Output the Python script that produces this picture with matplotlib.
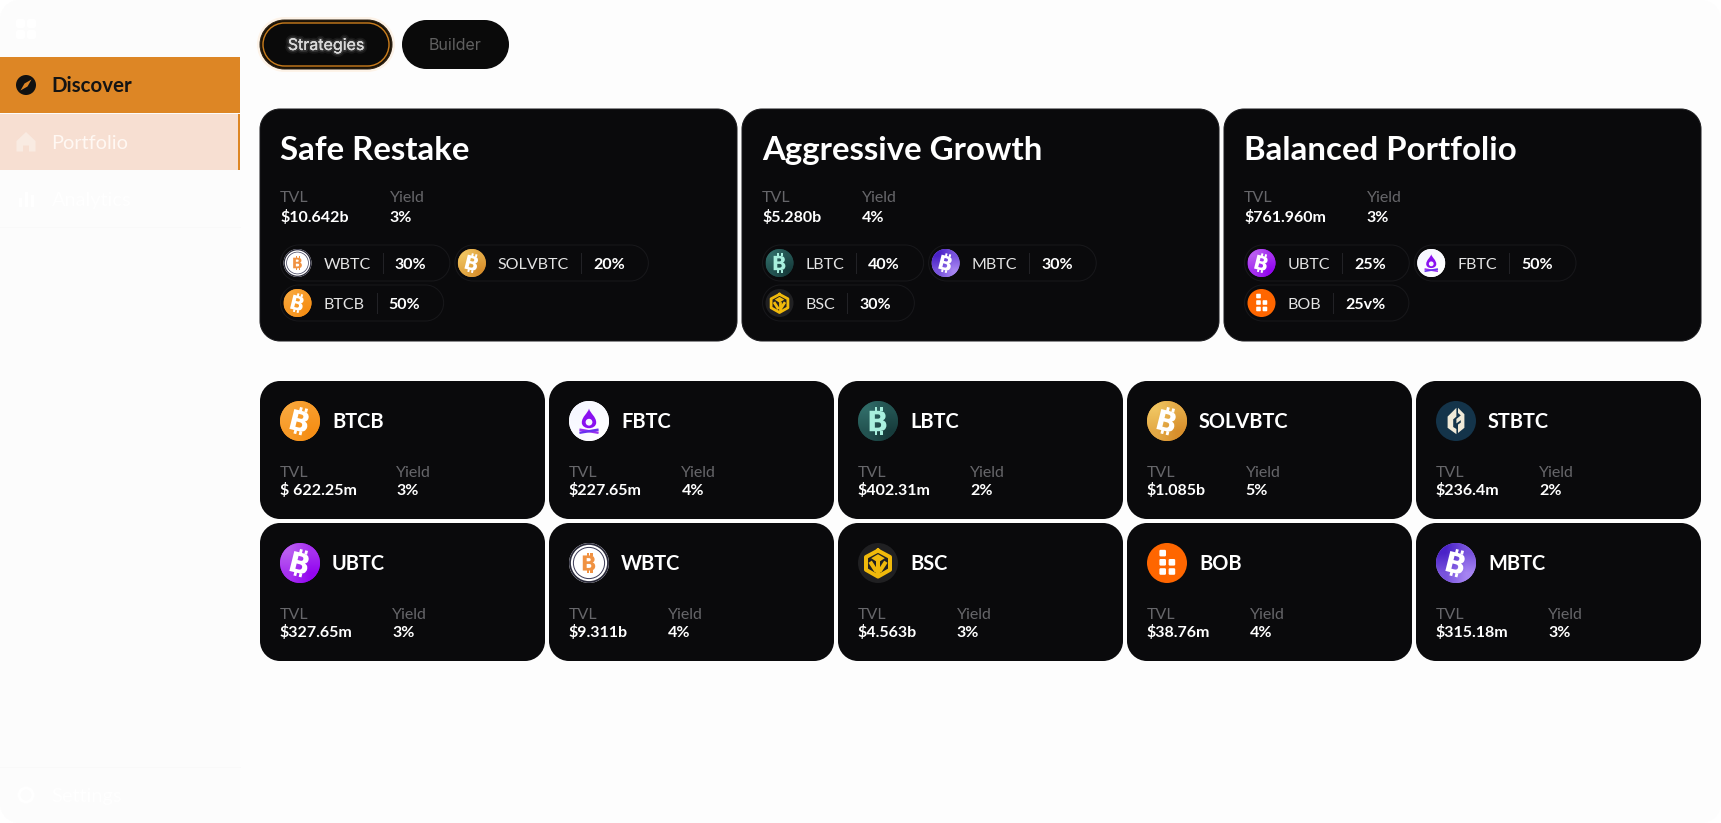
import numpy as np
import matplotlib
matplotlib.use("Agg")
import matplotlib.pyplot as plt
from matplotlib.patches import Circle, PathPatch, Polygon, Rectangle
from matplotlib.path import Path
from matplotlib.textpath import TextPath
from matplotlib.font_manager import FontProperties
from matplotlib.transforms import Affine2D
import matplotlib.patheffects as pe

# ---------- data ----------
NAV_ITEMS = ["Discover", "Portfolio", "Analytics"]
FOOT_ITEM = "Settings"
TABS = ["Strategies", "Builder"]

STRATEGY_NAMES = ["Safe Restake", "Aggressive Growth", "Balanced Portfolio"]
STRATEGY_TVL = ["$10.642b", "$5.280b", "$761.960m"]
STRATEGY_YIELD = ["3%", "4%", "3%"]
STRATEGY_TOKENS = [["WBTC", "SOLVBTC", "BTCB"], ["LBTC", "MBTC", "BSC"], ["UBTC", "FBTC", "BOB"]]
STRATEGY_SHARES = [["30%", "20%", "50%"], ["40%", "30%", "30%"], ["25%", "50%", "25v%"]]

TOKEN_NAMES = ["BTCB", "FBTC", "LBTC", "SOLVBTC", "STBTC", "UBTC", "WBTC", "BSC", "BOB", "MBTC"]
TOKEN_TVL = ["$ 622.25m", "$227.65m", "$402.31m", "$1.085b", "$236.4m",
             "$327.65m", "$9.311b", "$4.563b", "$38.76m", "$315.18m"]
TOKEN_YIELD = ["3%", "4%", "2%", "5%", "2%", "3%", "4%", "3%", "4%", "3%"]

# ---------- style ----------
FONT = "Lato"
CARD = "#0a0a0c"
EDGE = "#18181b"
ORANGE = "#dd8625"
ICON_STYLE = {
    "BTCB": ("#f9a63a", "#f68f16", "btc", "#ffffff"),
    "SOLVBTC": ("#efc35f", "#d88f2c", "btc", "#ffffff"),
    "UBTC": ("#b95cf0", "#9406f0", "btc", "#ffffff"),
    "MBTC": ("#4a22c8", "#a684f2", "btc", "#ffffff"),
    "LBTC": ("#2f6a66", "#173c3c", "btc_up", "#a8f0de"),
    "WBTC": ("#ffffff", "#ffffff", "wbtc", "#f09242"),
    "FBTC": ("#f6f7ff", "#ffffff", "flame", "#8a10f0"),
    "BSC": ("#202022", "#202022", "bsc", "#f0b90b"),
    "BOB": ("#ff6600", "#ff6600", "bob", "#ffffff"),
    "STBTC": ("#14344a", "#14344a", "st", "#f0ead8"),
}
PX = 0.72  # points per pixel at dpi 100
K = 0.5523

fig = plt.figure(figsize=(17.21, 8.23), dpi=100, facecolor="#ffffff")
ax = fig.add_axes([0, 0, 1, 1])
ax.axis("off")
W, H = 1721, 823
ax.set_xlim(0, W)
ax.set_ylim(H, 0)
ax.set_autoscale_on(False)


def rrect(x0, y0, x1, y1, r, fc, ec="none", lw=0.0, z=1):
    c = r * (1 - K)
    verts = [(x0 + r, y0), (x1 - r, y0), (x1 - c, y0), (x1, y0 + c), (x1, y0 + r), (x1, y1 - r),
             (x1, y1 - c), (x1 - c, y1), (x1 - r, y1), (x0 + r, y1), (x0 + c, y1), (x0, y1 - c),
             (x0, y1 - r), (x0, y0 + r), (x0, y0 + c), (x0 + c, y0), (x0 + r, y0), (x0 + r, y0)]
    codes = [Path.MOVETO, Path.LINETO] + [Path.CURVE4] * 3 + [Path.LINETO] + [Path.CURVE4] * 3 + [Path.LINETO] + \
            [Path.CURVE4] * 3 + [Path.LINETO] + [Path.CURVE4] * 3 + [Path.CLOSEPOLY]
    p = PathPatch(Path(verts, codes), fc=fc, ec=ec, lw=lw * PX, zorder=z)
    ax.add_patch(p)
    return p


def txt(x, y, s, px, color, weight="normal", family=None, ha="left", z=6, **kw):
    return ax.text(x, y, s, fontsize=px * PX, color=color, fontweight=weight,
                   family=family or FONT, ha=ha, va="baseline", zorder=z, **kw)


def right_edge(t):
    return t.get_window_extent(fig.canvas.get_renderer()).x1


def shape(cx, cy, r, pts, color, z=5):
    xy = [(cx + a * r, cy + b * r) for a, b in pts]
    ax.add_patch(Polygon(xy, closed=True, fc=color, ec="none", zorder=z))


def bitcoin(cx, cy, h, color, rot):
    """Bitcoin sign: a bold B with two ticks above and below."""
    fp = FontProperties(family="DejaVu Sans", weight="bold")
    tp = TextPath((0, 0), "B", size=h, prop=fp)
    bb = tp.get_extents()
    scale = h * 0.72 / bb.height
    base = Affine2D().translate(-(bb.x0 + bb.x1) / 2, -(bb.y0 + bb.y1) / 2).scale(scale, -scale)
    place = Affine2D().rotate_deg(rot).translate(cx, cy)
    ax.add_patch(PathPatch(tp.transformed(base + place), fc=color, ec="none", zorder=5))
    w = bb.width * scale
    tick_w, tick_h = h * 0.10, h * 0.14
    for dx in (-w * 0.20, w * 0.12):
        for y0 in (-h * 0.36 - tick_h + h * 0.02, h * 0.36 - h * 0.02):
            pts = np.array([(dx, y0), (dx + tick_w, y0), (dx + tick_w, y0 + tick_h), (dx, y0 + tick_h)])
            ax.add_patch(Polygon(place.transform(pts), fc=color, ec="none", zorder=5))


def icon(cx, cy, r, name):
    c1, c2, kind, g = ICON_STYLE[name]
    disc = Circle((cx, cy), r, fc=c2, ec="none", zorder=3)
    ax.add_patch(disc)
    if c1 != c2:
        a, b = np.array(matplotlib.colors.to_rgb(c1)), np.array(matplotlib.colors.to_rgb(c2))
        m = (a + b) / 2
        im = ax.imshow(np.array([[a, m], [m, b]]), extent=(cx - r, cx + r, cy + r, cy - r),
                       interpolation="bilinear", zorder=3.5, aspect="auto")
        im.set_clip_path(disc)
    if kind == "btc":
        bitcoin(cx, cy, 1.42 * r, g, 14)
    elif kind == "btc_up":
        bitcoin(cx, cy, 1.42 * r, g, 0)
    elif kind == "wbtc":
        bitcoin(cx, cy, 1.05 * r, g, 0)
        ax.add_patch(Circle((cx, cy), r * 0.95, fc="none", ec="#2a2a3a", lw=r * 0.09 * PX, zorder=4))
        ax.add_patch(Circle((cx, cy), r * 0.78, fc="none", ec="#3c3c58", lw=r * 0.05 * PX, zorder=4))
    elif kind == "flame":
        verts = [(0, -0.62), (0.06, -0.38), (0.36, -0.22), (0.36, 0.08), (0.36, 0.26), (0.18, 0.36), (0, 0.36),
                 (-0.18, 0.36), (-0.36, 0.26), (-0.36, 0.08), (-0.36, -0.22), (-0.06, -0.38), (0, -0.62)]
        codes = [Path.MOVETO] + [Path.CURVE4] * 12
        ax.add_patch(PathPatch(Path([(cx + a * r, cy + b * r) for a, b in verts], codes), fc=g, ec="none", zorder=5))
        ax.add_patch(Circle((cx, cy + 0.06 * r), 0.17 * r, fc="#f6f7ff", ec="none", zorder=6))
        ax.plot([cx - 0.42 * r, cx + 0.42 * r], [cy + 0.44 * r, cy + 0.58 * r], color="#9a30f0",
                lw=0.12 * r * PX, zorder=5)
        ax.plot([cx - 0.42 * r, cx + 0.42 * r], [cy + 0.58 * r, cy + 0.44 * r], color="#6a30f0",
                lw=0.12 * r * PX, zorder=5)
    elif kind == "bob":
        s = 0.33
        for a, b in [(-0.38, -0.66), (-0.38, -0.2), (-0.38, 0.26), (0.08, -0.2), (0.08, 0.26)]:
            rrect(cx + a * r, cy + b * r, cx + (a + s) * r, cy + (b + s) * r, 0.06 * r, g, z=5)
    elif kind == "bsc":
        lw = max(1.2, 0.2 * r)
        hexa = [(0, -0.62), (0.6, -0.3), (0.6, 0.34), (0, 0.68), (-0.6, 0.34), (-0.6, -0.3), (0, -0.62)]
        ax.plot([cx + a * r for a, b in hexa], [cy + b * r for a, b in hexa], color=g, lw=lw * PX, zorder=5)
        shape(cx, cy, r, [(-0.34, -0.24), (0, -0.44), (0.34, -0.24), (0, -0.02)], g)
        ax.plot([cx, cx], [cy - 0.02 * r, cy + 0.5 * r], color=g, lw=lw * PX, zorder=5)
        ax.plot([cx - 0.34 * r, cx - 0.12 * r], [cy + 0.02 * r, cy + 0.36 * r], color=g, lw=lw * PX, zorder=5)
        ax.plot([cx + 0.34 * r, cx + 0.12 * r], [cy + 0.02 * r, cy + 0.36 * r], color=g, lw=lw * PX, zorder=5)
    elif kind == "st":
        shape(cx, cy, r, [(-0.42, -0.22), (0.02, -0.66), (0.02, -0.22), (-0.14, -0.08), (-0.14, 0.3),
                          (0.02, 0.4), (0.02, 0.66), (-0.42, 0.34)], g)
        shape(cx, cy, r, [(0.1, -0.66), (0.42, -0.34), (0.42, 0.34), (0.1, 0.6), (0.1, 0.18), (0.24, 0.08),
                          (0.24, -0.04), (0.02, 0.12), (0.02, -0.1), (0.24, -0.28), (0.1, -0.4)], g)


# ---------- page & sidebar ----------
rrect(0, 0, W, H, 20, "#fdfdfd", z=0)
rrect(0, 0, 260, H, 20, "#fcfcfc", z=0.5)
ax.add_patch(Rectangle((240, 0), 25, H, fc="#fdfdfd", ec="none", zorder=0.6))

for a, b in [(0, 0), (11, 0), (0, 11), (11, 11)]:
    rrect(16 + a, 19 + b, 16 + a + 9, 19 + b + 9, 2, "#ffffff", z=2)

ax.add_patch(Rectangle((0, 57), 240, 56, fc=ORANGE, ec="none", zorder=1))
ax.add_patch(Rectangle((0, 114), 240, 56, fc="#f7dfd2", ec="none", zorder=1))
ax.add_patch(Rectangle((238, 114), 2, 56, fc=ORANGE, ec="none", zorder=2))
ax.plot([0, 240], [227, 227], color="#f9f9f9", lw=1 * PX, zorder=1)
ax.plot([0, 240], [767, 767], color="#f9f9f9", lw=1 * PX, zorder=1)

ax.add_patch(Circle((26, 85), 10, fc="#111111", ec="none", zorder=3))
shape(26, 85, 10, [(0.55, -0.55), (0.15, 0.15), (-0.55, 0.55), (-0.15, -0.15)], ORANGE)
shape(26, 142, 10, [(0, -1.0), (0.95, -0.1), (0.95, 0.95), (0.3, 0.95), (0.3, 0.35), (-0.3, 0.35), (-0.3, 0.95),
                    (-0.95, 0.95), (-0.95, -0.1)], "#f9ebe2", z=3)
for a, b in [(20, 198), (26, 192), (32, 195)]:
    ax.add_patch(Rectangle((a - 1, b), 2.5, 207 - b, fc="#ffffff", ec="none", zorder=2))
ax.add_patch(Circle((26, 795), 7, fc="none", ec="#ffffff", lw=3 * PX, zorder=2))

txt(51.5, 92, NAV_ITEMS[0], 20.5, "#141414", weight="bold")
txt(51.5, 149, NAV_ITEMS[1], 20, "#fff8f3")
txt(51.5, 205.7, NAV_ITEMS[2], 20, "#ffffff")
txt(51.5, 801.7, FOOT_ITEM, 20, "#ffffff")

# ---------- tabs ----------
rrect(257, 17, 395, 72, 27.5, "#fdf3e8", z=1)
rrect(260, 20, 392, 69, 24.5, "#1c1408", ec="#2b1f10", lw=1, z=2)
rrect(263, 23, 389, 66, 21.5, "#0a0a0a", ec="#c97c1c", lw=1.4, z=3)
txt(326, 50, TABS[0], 16, "#d8d8d8", family="Inter", ha="center",
    path_effects=[pe.withStroke(linewidth=5, foreground="#ffffff", alpha=0.06),
                  pe.withStroke(linewidth=2.5, foreground="#ffffff", alpha=0.12),
                  pe.Normal()])
rrect(402, 20, 509, 69, 24.5, "#0a0a0a", z=2)
txt(455.5, 50, TABS[1], 16, "#606060", family="Inter", ha="center")


def metrics(x, y_label, y_value, tvl, yld, gap, size):
    txt(x, y_label, "TVL", size, "#66666a")
    t = txt(x, y_value, tvl, size, "#ffffff", weight="bold")
    yx = right_edge(t) + gap
    txt(yx, y_label, "Yield", size, "#66666a")
    txt(yx, y_value, yld, size, "#ffffff", weight="bold")


def pill(x, top, name, share):
    mid = top + 18
    icon(x + 17, mid, 14, name)
    t = txt(x + 43, mid + 5.7, name, 16, "#e4e4e4")
    sep = right_edge(t) + 12
    ax.plot([sep, sep], [mid - 10, mid + 10], color="#222226", lw=1 * PX, zorder=5)
    v = txt(sep + 12, mid + 5.7, share, 16, "#ffffff", weight="bold")
    end = right_edge(v) + 23.5
    rrect(x, top, end, top + 36, 18, "none", ec=EDGE, lw=1, z=2)
    return end


# ---------- strategy cards ----------
CARD_X = [260, 742, 1224]
CARD_W = 477
for i, name in enumerate(STRATEGY_NAMES):
    x = CARD_X[i]
    rrect(x, 109, x + CARD_W, 341, 20, CARD, ec="#1b1b1e", lw=1, z=1)
    tx = x + 20.5
    txt(tx - 0.5, 160, name, 33, "#ffffff", weight="bold")
    metrics(tx - 0.5, 202, 221.5, STRATEGY_TVL[i], STRATEGY_YIELD[i], 41, 16)
    end = pill(tx, 245, STRATEGY_TOKENS[i][0], STRATEGY_SHARES[i][0])
    pill(end + 5, 245, STRATEGY_TOKENS[i][1], STRATEGY_SHARES[i][1])
    pill(tx, 285, STRATEGY_TOKENS[i][2], STRATEGY_SHARES[i][2])

# ---------- token cards ----------
for i, name in enumerate(TOKEN_NAMES):
    col, row = i % 5, i // 5
    x = 260 + col * 289
    y = 381 + row * 142
    rrect(x, y, x + 285, y + 138, 20, CARD, z=1)
    icon(x + 40, y + 40, 20, name)
    txt(x + 72, y + 47, name, 20, "#ffffff", weight="bold")
    metrics(x + 19.5, y + 95.7, y + 114, TOKEN_TVL[i], TOKEN_YIELD[i], 40, 16)

fig.savefig("out.png", dpi=100, facecolor=fig.get_facecolor())
